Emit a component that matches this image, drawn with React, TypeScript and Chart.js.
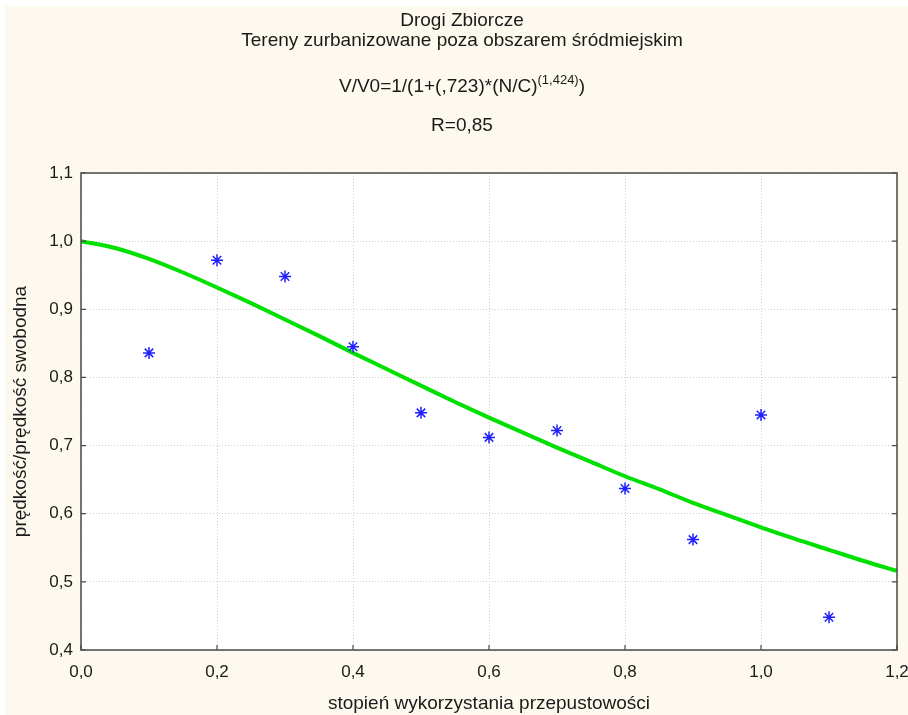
import React, { useEffect, useRef } from "react";
import { Chart, registerables } from "chart.js";

Chart.register(...registerables);

// ---------- text ----------
const TITLE_LINES = ["Drogi Zbiorcze", "Tereny zurbanizowane poza obszarem śródmiejskim"];
const FORMULA_MAIN = "V/V0=1/(1+(,723)*(N/C)";
const FORMULA_SUP = "(1,424)";
const FORMULA_END = ")";
const R_LABEL = "R=0,85";
const X_TITLE = "stopień wykorzystania przepustowości";
const Y_TITLE = "prędkość/prędkość swobodna";

// ---------- data ----------
const obsX = [0.1, 0.2, 0.3, 0.4, 0.5, 0.6, 0.7, 0.8, 0.9, 1.0, 1.1];
const obsY = [0.836, 0.972, 0.948, 0.845, 0.748, 0.712, 0.722, 0.637, 0.562, 0.745, 0.448];

const fitX = [0, 0.05, 0.1, 0.15, 0.2, 0.25, 0.3, 0.35, 0.4, 0.45, 0.5, 0.55, 0.6, 0.65, 0.7, 0.75, 0.8, 0.85, 0.9, 0.95, 1.0, 1.05, 1.1, 1.15, 1.2];
const fitY = [1.0, 0.99, 0.974, 0.954, 0.932, 0.909, 0.885, 0.861, 0.836, 0.812, 0.788, 0.764, 0.741, 0.719, 0.697, 0.676, 0.655, 0.636, 0.616, 0.598, 0.58, 0.563, 0.547, 0.531, 0.516];

const xTicks = [0, 0.2, 0.4, 0.6, 0.8, 1.0, 1.2];
const yTicks = [0.4, 0.5, 0.6, 0.7, 0.8, 0.9, 1.0, 1.1];

const FONT = "'Liberation Sans', Arial, Helvetica, sans-serif";
const TEXT_COLOR = "#1a1a1a";
const CREAM = "#fdf9ee";

const fmt = (v: number) => v.toFixed(1).replace(".", ",");

const backgroundPlugin = {
  id: "bgPlugin",
  beforeDraw(chart: any) {
    const { ctx, width, height, chartArea } = chart;
    ctx.save();
    ctx.fillStyle = "#ffffff";
    ctx.fillRect(0, 0, width, height);
    ctx.fillStyle = CREAM;
    ctx.fillRect(5, 6, width - 5, height - 6);
    ctx.fillStyle = "#ffffff";
    ctx.fillRect(chartArea.left, chartArea.top, chartArea.right - chartArea.left, chartArea.bottom - chartArea.top);
    ctx.restore();
  },
};

const titlePlugin = {
  id: "titlePlugin",
  afterDraw(chart: any) {
    const { ctx } = chart;
    const cx = 462;
    ctx.save();
    ctx.fillStyle = TEXT_COLOR;
    ctx.textBaseline = "middle";
    ctx.textAlign = "center";
    ctx.font = `19px ${FONT}`;
    ctx.fillText(TITLE_LINES[0], cx, 21);
    ctx.fillText(TITLE_LINES[1], cx, 41);
    ctx.fillText(R_LABEL, cx, 126);

    // formula with superscript
    const mainFont = `19px ${FONT}`;
    const supFont = `13px ${FONT}`;
    ctx.font = mainFont;
    const wMain = ctx.measureText(FORMULA_MAIN).width;
    const wEnd = ctx.measureText(FORMULA_END).width;
    ctx.font = supFont;
    const wSup = ctx.measureText(FORMULA_SUP).width;
    const total = wMain + wSup + wEnd;
    let x = cx - total / 2;
    ctx.textAlign = "left";
    ctx.font = mainFont;
    ctx.fillText(FORMULA_MAIN, x, 87);
    x += wMain;
    ctx.font = supFont;
    ctx.fillText(FORMULA_SUP, x, 80);
    x += wSup;
    ctx.font = mainFont;
    ctx.fillText(FORMULA_END, x, 87);
    ctx.restore();
  },
};

const framePlugin = {
  id: "framePlugin",
  afterDatasetsDraw(chart: any) {
    const { ctx, chartArea } = chart;
    const xs = chart.scales.x;
    const ys = chart.scales.y;
    const { left, right, top, bottom } = chartArea;
    ctx.save();
    ctx.strokeStyle = "#4a4a4a";
    ctx.lineWidth = 1.5;
    ctx.strokeRect(left, top, right - left, bottom - top);
    ctx.lineWidth = 1.2;
    ctx.beginPath();
    const tl = 5;
    yTicks.forEach((v) => {
      const py = ys.getPixelForValue(v);
      ctx.moveTo(left, py);
      ctx.lineTo(left + tl, py);
      ctx.moveTo(right, py);
      ctx.lineTo(right - tl, py);
    });
    xTicks.forEach((v) => {
      const px = xs.getPixelForValue(v);
      ctx.moveTo(px, bottom);
      ctx.lineTo(px, bottom - tl);
    });
    ctx.stroke();
    ctx.restore();
  },
};

export default function App() {
  const ref = useRef<HTMLCanvasElement | null>(null);

  useEffect(() => {
    document.body.style.margin = "0";
    const canvas = ref.current;
    if (!canvas) return;
    const chart = new Chart(canvas, {
      type: "scatter",
      data: {
        datasets: [
          {
            label: "fit",
            data: fitX.map((x, i) => ({ x, y: fitY[i] })),
            showLine: true,
            borderColor: "#00e000",
            borderWidth: 4,
            pointRadius: 0,
            cubicInterpolationMode: "monotone",
            order: 2,
          } as any,
          {
            label: "obs",
            data: obsX.map((x, i) => ({ x, y: obsY[i] })),
            showLine: false,
            pointStyle: "star",
            pointRadius: 6,
            borderColor: "#2020ff",
            backgroundColor: "#2020ff",
            pointBorderWidth: 1.5,
            order: 1,
          } as any,
        ],
      },
      options: {
        animation: false,
        responsive: false,
        maintainAspectRatio: false,
        layout: { padding: { top: 173, right: 11, left: 0, bottom: 0 }, autoPadding: false } as any,
        plugins: {
          legend: { display: false },
          tooltip: { enabled: false },
          title: { display: false },
        },
        scales: {
          x: {
            type: "linear",
            min: 0,
            max: 1.2,
            afterBuildTicks: (s: any) => {
              s.ticks = xTicks.map((v) => ({ value: v }));
            },
            afterFit: (s: any) => {
              s.height = 65;
              s.paddingLeft = 0;
              s.paddingRight = 0;
            },
            ticks: {
              callback: (v: any) => fmt(Number(v)),
              font: { family: FONT, size: 17 },
              color: TEXT_COLOR,
              padding: 12,
              maxRotation: 0,
              autoSkip: false,
            },
            grid: { color: "#cfcfcf", lineWidth: 1, drawTicks: false },
            border: { display: false, dash: [1, 2] },
            title: {
              display: true,
              text: X_TITLE,
              font: { family: FONT, size: 19 },
              color: TEXT_COLOR,
              padding: { top: 0, bottom: 0 },
            },
          },
          y: {
            type: "linear",
            min: 0.4,
            max: 1.1,
            afterBuildTicks: (s: any) => {
              s.ticks = yTicks.map((v) => ({ value: v }));
            },
            afterFit: (s: any) => {
              s.width = 81;
              s.paddingTop = 0;
              s.paddingBottom = 0;
            },
            ticks: {
              callback: (v: any) => fmt(Number(v)),
              font: { family: FONT, size: 17 },
              color: TEXT_COLOR,
              padding: 8,
              autoSkip: false,
            },
            grid: { color: "#cfcfcf", lineWidth: 1, drawTicks: false },
            border: { display: false, dash: [1, 2] },
            title: {
              display: true,
              text: Y_TITLE,
              font: { family: FONT, size: 19 },
              color: TEXT_COLOR,
              padding: { top: 9, bottom: 0 },
            },
          },
        },
      },
      plugins: [backgroundPlugin, titlePlugin, framePlugin],
    });
    return () => chart.destroy();
  }, []);

  return (
    <div style={{ width: 908, height: 715 }}>
      <canvas ref={ref} width={908} height={715} style={{ display: "block", width: 908, height: 715 }} />
    </div>
  );
}
